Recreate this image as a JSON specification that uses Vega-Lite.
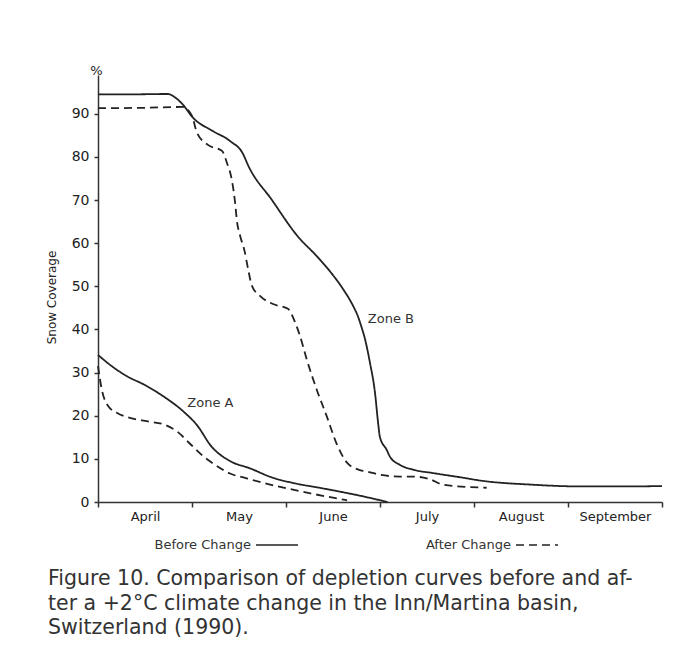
{
  "$schema": "https://vega.github.io/schema/vega-lite/v6.json",
  "width": 564,
  "height": 427,
  "autosize": {"type": "none"},
  "padding": {"left": 98, "top": 75, "right": 28, "bottom": 157},
  "background": "white",
  "config": {
    "view": {"stroke": null},
    "font": "DejaVu Sans",
    "axis": {
      "domainColor": "#333",
      "domainWidth": 1.5,
      "tickColor": "#333",
      "tickWidth": 1.5,
      "labelColor": "#222",
      "labelFontSize": 13,
      "titleColor": "#222",
      "titleFontWeight": "normal",
      "grid": false
    }
  },
  "title": {
    "text": ["Figure 10. Comparison of depletion curves before and af-", "ter a +2°C climate change in the Inn/Martina basin,", "Switzerland (1990)."],
    "orient": "bottom",
    "anchor": "start",
    "frame": "group",
    "dx": -50,
    "offset": 17,
    "font": "DejaVu Sans",
    "fontSize": 20.5,
    "fontWeight": "normal",
    "color": "#333",
    "lineHeight": 24.5
  },
  "datasets": {
    "curves": [
      {"zone": "B", "change": "Before Change", "m": 0, "v": 94.5},
      {"zone": "B", "change": "Before Change", "m": 0.3, "v": 94.5},
      {"zone": "B", "change": "Before Change", "m": 0.745, "v": 94.6},
      {"zone": "B", "change": "Before Change", "m": 0.82, "v": 93.8},
      {"zone": "B", "change": "Before Change", "m": 0.904, "v": 92.1},
      {"zone": "B", "change": "Before Change", "m": 1.01, "v": 89.1},
      {"zone": "B", "change": "Before Change", "m": 1.213, "v": 86.1},
      {"zone": "B", "change": "Before Change", "m": 1.404, "v": 83.7},
      {"zone": "B", "change": "Before Change", "m": 1.543, "v": 80.7},
      {"zone": "B", "change": "Before Change", "m": 1.596, "v": 78.1},
      {"zone": "B", "change": "Before Change", "m": 1.851, "v": 70.0},
      {"zone": "B", "change": "Before Change", "m": 2.117, "v": 61.8},
      {"zone": "B", "change": "Before Change", "m": 2.34, "v": 56.7},
      {"zone": "B", "change": "Before Change", "m": 2.489, "v": 52.9},
      {"zone": "B", "change": "Before Change", "m": 2.606, "v": 49.4},
      {"zone": "B", "change": "Before Change", "m": 2.713, "v": 45.5},
      {"zone": "B", "change": "Before Change", "m": 2.766, "v": 43.0},
      {"zone": "B", "change": "Before Change", "m": 2.80, "v": 40.8},
      {"zone": "B", "change": "Before Change", "m": 2.84, "v": 37.8},
      {"zone": "B", "change": "Before Change", "m": 2.894, "v": 32.2},
      {"zone": "B", "change": "Before Change", "m": 2.947, "v": 25.3},
      {"zone": "B", "change": "Before Change", "m": 2.98, "v": 18.3},
      {"zone": "B", "change": "Before Change", "m": 3.0, "v": 15.0},
      {"zone": "B", "change": "Before Change", "m": 3.071, "v": 12.1},
      {"zone": "B", "change": "Before Change", "m": 3.106, "v": 10.5},
      {"zone": "B", "change": "Before Change", "m": 3.213, "v": 8.6},
      {"zone": "B", "change": "Before Change", "m": 3.35, "v": 7.5},
      {"zone": "B", "change": "Before Change", "m": 3.567, "v": 6.7},
      {"zone": "B", "change": "Before Change", "m": 3.92, "v": 5.5},
      {"zone": "B", "change": "Before Change", "m": 4.028, "v": 5.1},
      {"zone": "B", "change": "Before Change", "m": 4.631, "v": 4.0},
      {"zone": "B", "change": "Before Change", "m": 5.163, "v": 3.6},
      {"zone": "B", "change": "Before Change", "m": 5.6, "v": 3.6},
      {"zone": "B", "change": "Before Change", "m": 6.0, "v": 3.7},
      {"zone": "B", "change": "After Change", "m": 0, "v": 91.3},
      {"zone": "B", "change": "After Change", "m": 0.5, "v": 91.4},
      {"zone": "B", "change": "After Change", "m": 0.904, "v": 91.6},
      {"zone": "B", "change": "After Change", "m": 1.0, "v": 89.5},
      {"zone": "B", "change": "After Change", "m": 1.053, "v": 85.6},
      {"zone": "B", "change": "After Change", "m": 1.17, "v": 82.8},
      {"zone": "B", "change": "After Change", "m": 1.319, "v": 81.4},
      {"zone": "B", "change": "After Change", "m": 1.372, "v": 78.6},
      {"zone": "B", "change": "After Change", "m": 1.426, "v": 74.4},
      {"zone": "B", "change": "After Change", "m": 1.457, "v": 69.7},
      {"zone": "B", "change": "After Change", "m": 1.479, "v": 65.0},
      {"zone": "B", "change": "After Change", "m": 1.511, "v": 61.8},
      {"zone": "B", "change": "After Change", "m": 1.56, "v": 58.1},
      {"zone": "B", "change": "After Change", "m": 1.596, "v": 54.1},
      {"zone": "B", "change": "After Change", "m": 1.638, "v": 50.1},
      {"zone": "B", "change": "After Change", "m": 1.723, "v": 47.8},
      {"zone": "B", "change": "After Change", "m": 1.862, "v": 45.9},
      {"zone": "B", "change": "After Change", "m": 2.021, "v": 44.8},
      {"zone": "B", "change": "After Change", "m": 2.096, "v": 41.7},
      {"zone": "B", "change": "After Change", "m": 2.149, "v": 38.5},
      {"zone": "B", "change": "After Change", "m": 2.22, "v": 33.1},
      {"zone": "B", "change": "After Change", "m": 2.326, "v": 26.1},
      {"zone": "B", "change": "After Change", "m": 2.433, "v": 19.9},
      {"zone": "B", "change": "After Change", "m": 2.539, "v": 13.5},
      {"zone": "B", "change": "After Change", "m": 2.646, "v": 9.2},
      {"zone": "B", "change": "After Change", "m": 2.787, "v": 7.4},
      {"zone": "B", "change": "After Change", "m": 2.858, "v": 7.1},
      {"zone": "B", "change": "After Change", "m": 3.0, "v": 6.3},
      {"zone": "B", "change": "After Change", "m": 3.213, "v": 5.9},
      {"zone": "B", "change": "After Change", "m": 3.35, "v": 5.9},
      {"zone": "B", "change": "After Change", "m": 3.53, "v": 5.3},
      {"zone": "B", "change": "After Change", "m": 3.674, "v": 4.0},
      {"zone": "B", "change": "After Change", "m": 4.135, "v": 3.3},
      {"zone": "A", "change": "Before Change", "m": 0, "v": 34.1},
      {"zone": "A", "change": "Before Change", "m": 0.128, "v": 31.8},
      {"zone": "A", "change": "Before Change", "m": 0.305, "v": 29.2},
      {"zone": "A", "change": "Before Change", "m": 0.5, "v": 27.1},
      {"zone": "A", "change": "Before Change", "m": 0.695, "v": 24.5},
      {"zone": "A", "change": "Before Change", "m": 0.908, "v": 21.0},
      {"zone": "A", "change": "Before Change", "m": 1.05, "v": 17.9},
      {"zone": "A", "change": "Before Change", "m": 1.21, "v": 12.8},
      {"zone": "A", "change": "Before Change", "m": 1.404, "v": 9.5},
      {"zone": "A", "change": "Before Change", "m": 1.617, "v": 7.8},
      {"zone": "A", "change": "Before Change", "m": 1.85, "v": 5.7},
      {"zone": "A", "change": "Before Change", "m": 2.1, "v": 4.3},
      {"zone": "A", "change": "Before Change", "m": 2.38, "v": 3.2},
      {"zone": "A", "change": "Before Change", "m": 2.8, "v": 1.4},
      {"zone": "A", "change": "Before Change", "m": 3.08, "v": 0},
      {"zone": "A", "change": "After Change", "m": 0, "v": 31.5},
      {"zone": "A", "change": "After Change", "m": 0.04, "v": 26.1},
      {"zone": "A", "change": "After Change", "m": 0.11, "v": 22.2},
      {"zone": "A", "change": "After Change", "m": 0.2, "v": 20.7},
      {"zone": "A", "change": "After Change", "m": 0.34, "v": 19.5},
      {"zone": "A", "change": "After Change", "m": 0.53, "v": 18.7},
      {"zone": "A", "change": "After Change", "m": 0.71, "v": 17.9},
      {"zone": "A", "change": "After Change", "m": 0.85, "v": 16.2},
      {"zone": "A", "change": "After Change", "m": 0.979, "v": 13.5},
      {"zone": "A", "change": "After Change", "m": 1.12, "v": 10.6},
      {"zone": "A", "change": "After Change", "m": 1.262, "v": 8.4},
      {"zone": "A", "change": "After Change", "m": 1.404, "v": 6.6},
      {"zone": "A", "change": "After Change", "m": 1.58, "v": 5.5},
      {"zone": "A", "change": "After Change", "m": 1.8, "v": 4.2},
      {"zone": "A", "change": "After Change", "m": 2.0, "v": 3.2},
      {"zone": "A", "change": "After Change", "m": 2.26, "v": 2.0},
      {"zone": "A", "change": "After Change", "m": 2.45, "v": 1.2},
      {"zone": "A", "change": "After Change", "m": 2.65, "v": 0.4}
    ],
    "labels": [
      {"m": 0.95, "v": 23, "label": "Zone A"},
      {"m": 2.87, "v": 42.4, "label": "Zone B"}
    ]
  },
  "layer": [
    {
      "data": {"name": "curves"},
      "mark": {"type": "line", "interpolate": "monotone", "color": "#222", "strokeWidth": 1.8},
      "encoding": {
        "x": {
          "field": "m",
          "type": "quantitative",
          "scale": {"domain": [0, 6], "nice": false, "zero": false},
          "axis": {
            "orient": "bottom",
            "title": null,
            "values": [0, 1, 2, 3, 4, 5, 6],
            "labelExpr": "['April','May','June','July','August','September',''][datum.value]",
            "labelOffset": 47,
            "labelFlush": false,
            "labelOverlap": false,
            "labelPadding": 3,
            "labelFontSize": 13,
            "tickSize": 5
          }
        },
        "y": {
          "field": "v",
          "type": "quantitative",
          "scale": {"domain": [0, 99], "nice": false},
          "axis": {
            "title": "Snow Coverage",
            "titleFontSize": 12,
            "titleX": -47,
            "titleY": 222,
            "titleBaseline": "middle",
            "values": [0, 10, 20, 30, 40, 50, 60, 70, 80, 90],
            "labelFontSize": 14,
            "tickSize": 4,
            "labelPadding": 5
          }
        },
        "strokeDash": {
          "field": "change",
          "type": "nominal",
          "scale": {"domain": ["Before Change", "After Change"], "range": [[1, 0], [8, 5]]},
          "legend": {
            "orient": "none",
            "legendX": 157,
            "legendY": 448,
            "direction": "horizontal",
            "title": null,
            "padding": 0,
            "symbolType": "stroke",
            "symbolSize": 1764,
            "symbolStrokeWidth": 1.5,
            "symbolStrokeColor": "#222",
            "labelFont": "DejaVu Sans",
            "labelFontSize": 13,
            "labelColor": "#333",
            "labelAlign": "right",
            "labelOffset": -48,
            "columnPadding": 124
          }
        },
        "detail": {"field": "zone"}
      }
    },
    {
      "data": {"name": "labels"},
      "mark": {"type": "text", "align": "left", "baseline": "middle", "font": "DejaVu Sans", "fontSize": 13, "color": "#333"},
      "encoding": {
        "x": {
          "field": "m",
          "type": "quantitative",
          "axis": {
            "orient": "top",
            "domain": false,
            "ticks": false,
            "labels": false,
            "title": "%",
            "titleFontSize": 13,
            "titleX": -2,
            "titleY": -1,
            "titleAlign": "center",
            "titleBaseline": "alphabetic"
          }
        },
        "y": {
          "field": "v",
          "type": "quantitative",
          "axis": {"title": "Snow Coverage"}
        },
        "text": {"field": "label"}
      }
    }
  ],
  "resolve": {"axis": {"x": "independent"}}
}
